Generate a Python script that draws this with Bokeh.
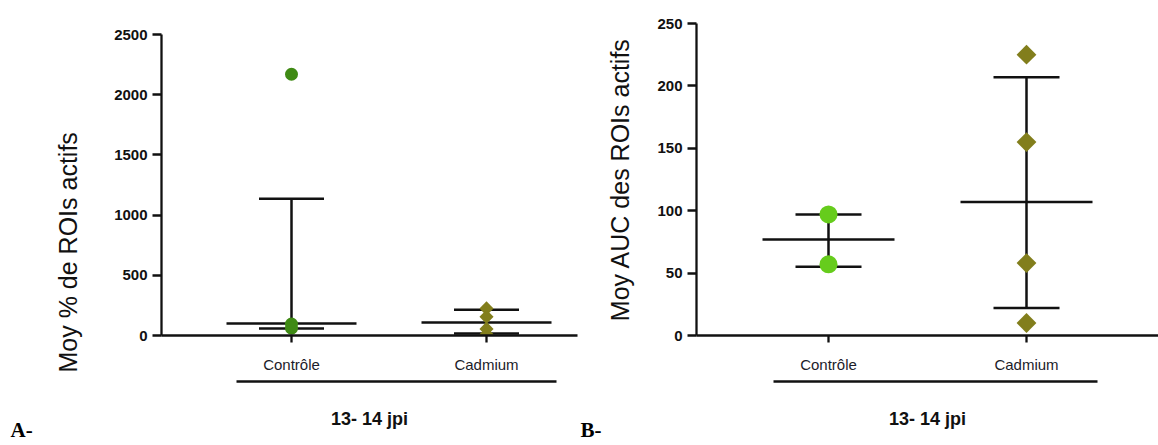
import math
from bokeh.plotting import figure
from bokeh.models import Range1d, FixedTicker, LinearAxis, Title
from bokeh.layouts import row
from bokeh.embed import file_html
from bokeh.resources import INLINE

# ---------------- data ----------------
categories = ["Contrôle", "Cadmium"]
a_ctrl = [2170, 95, 60]
a_cad = [225, 155, 55, 10]
a_center = [99, 107]
a_low = [58, 16]
a_high = [1135, 214]
a_ticks = [0, 500, 1000, 1500, 2000, 2500]

b_ctrl = [97, 57]
b_cad = [225, 155, 58, 10]
b_center = [77, 107]
b_low = [55, 22]
b_high = [97, 207]
b_ticks = [0, 50, 100, 150, 200, 250]

group_label = "13- 14 jpi"
a_ylabel = "Moy % de ROIs actifs"
b_ylabel = "Moy AUC des ROIs actifs"
panel_letters = ["A-", "B-"]

FONT = "Liberation Sans"
INK = "#111111"
H = 445
FRAME_TOP = 23
FRAME_BOTTOM = 335


def make_panel(width, bl, br, axis_top_px, ymax, ticks, ctrl_vals, cad_vals, center, low, high,
               ctrl_color, cad_color, circ_size, diam_size, px_per_cat, letter, letter_offset):
    xs = [i + 1 for i in range(len(categories))]
    ppu = (FRAME_BOTTOM - axis_top_px) / ymax
    y_end = ymax + (axis_top_px - FRAME_TOP) / ppu
    p = figure(width=width, height=H, output_backend="svg", toolbar_location=None,
               x_range=Range1d(1 / 3, 1 / 3 + (width - bl - br) / px_per_cat),
               y_range=Range1d(0, y_end),
               min_border_left=bl, min_border_right=br, min_border_top=FRAME_TOP,
               min_border_bottom=H - FRAME_BOTTOM,
               x_axis_location=None, y_axis_location=None)
    p.outline_line_color = None
    p.xgrid.visible = False
    p.ygrid.visible = False

    # y axis
    ya = LinearAxis(ticker=FixedTicker(ticks=ticks), bounds=(0, ymax))
    ya.axis_line_width = 2.3
    ya.axis_line_color = INK
    ya.major_tick_line_width = 2.3
    ya.major_tick_line_color = INK
    ya.major_tick_out = 9
    ya.major_tick_in = 0
    ya.minor_tick_line_color = None
    ya.major_label_standoff = 5
    ya.major_label_text_font = FONT
    ya.major_label_text_font_style = "bold"
    ya.major_label_text_font_size = "15px"
    ya.major_label_text_color = INK
    p.add_layout(ya, "left")

    # x axis (categories)
    xa = LinearAxis(ticker=FixedTicker(ticks=xs),
                    major_label_overrides={x: c for x, c in zip(xs, categories)})
    xa.axis_line_width = 2.3
    xa.axis_line_color = INK
    xa.major_tick_line_width = 2.3
    xa.major_tick_line_color = INK
    xa.major_tick_out = 7
    xa.major_tick_in = 0
    xa.minor_tick_line_color = None
    xa.major_label_standoff = 13
    xa.major_label_text_font = FONT
    xa.major_label_text_font_size = "15px"
    xa.major_label_text_color = "#1c1c2a"
    p.add_layout(xa, "below")

    # invisible spacer between category labels and grouping bracket
    sp = LinearAxis(ticker=FixedTicker(ticks=[xs[0]]), major_label_overrides={xs[0]: ""})
    sp.axis_line_color = None
    sp.major_tick_line_color = None
    sp.major_tick_out = 6
    sp.major_tick_in = 0
    sp.major_label_standoff = 0
    sp.major_label_text_font_size = "1px"
    sp.minor_tick_line_color = None
    p.add_layout(sp, "below")

    # grouping bracket with its title
    ga = LinearAxis(ticker=FixedTicker(ticks=[]), bounds=(0.72, 2.36))
    ga.axis_line_width = 2.3
    ga.axis_line_color = INK
    ga.major_tick_out = 0
    ga.major_tick_in = 0
    ga.major_label_standoff = 0
    ga.minor_tick_line_color = None
    ga.axis_label = group_label
    ga.axis_label_standoff = 27
    ga.axis_label_text_font = FONT
    ga.axis_label_text_font_style = "bold"
    ga.axis_label_text_font_size = "18px"
    ga.axis_label_text_color = INK
    p.add_layout(ga, "below")

    # panel letter
    p.add_layout(Title(text=letter, align="left", offset=letter_offset, standoff=-28,
                       vertical_align="top", text_font="Liberation Serif",
                       text_font_style="bold", text_font_size="21px", text_color="#000000"),
                 "below")

    # mean and error bars
    p.segment(x0=[x - 1 / 3 for x in xs], x1=[x + 1 / 3 for x in xs], y0=center, y1=center,
              line_width=2.5, line_color=INK)
    p.segment(x0=xs, x1=xs, y0=low, y1=high, line_width=2.5, line_color=INK)
    p.segment(x0=[x - 1 / 6 for x in xs], x1=[x + 1 / 6 for x in xs], y0=high, y1=high,
              line_width=2.5, line_color=INK)
    p.segment(x0=[x - 1 / 6 for x in xs], x1=[x + 1 / 6 for x in xs], y0=low, y1=low,
              line_width=2.5, line_color=INK)

    # points
    p.scatter(x=[xs[0]] * len(ctrl_vals), y=ctrl_vals, marker="circle", size=circ_size,
              fill_color=ctrl_color, line_color=None)
    p.scatter(x=[xs[1]] * len(cad_vals), y=cad_vals, marker="square", angle=math.pi / 4,
              size=diam_size, fill_color=cad_color, line_color=None)
    return p, ya


pA, yaA = make_panel(578, 161, 1, 34, 2500, a_ticks, a_ctrl, a_cad, a_center, a_low, a_high,
                     "#3f8a14", "#827e1c", 13, 10, 195, panel_letters[0], -151)
pB, yaB = make_panel(580, 118, 0, 23, 250, b_ticks, b_ctrl, b_cad, b_center, b_low, b_high,
                     "#66cc1c", "#827e1c", 18, 14, 198, panel_letters[1], -116)

# y-axis titles
pA.add_layout(Title(text=a_ylabel, align="left", offset=-37, standoff=60,
                    vertical_align="bottom", text_font=FONT, text_font_style="normal",
                    text_font_size="25px", text_color=INK), "left")
yaB.axis_label = b_ylabel
yaB.axis_label_standoff = 20
yaB.axis_label_text_font = FONT
yaB.axis_label_text_font_style = "normal"
yaB.axis_label_text_font_size = "25px"
yaB.axis_label_text_color = INK

layout = row(pA, pB)
open("out.html", "w").write(file_html(layout, INLINE))
